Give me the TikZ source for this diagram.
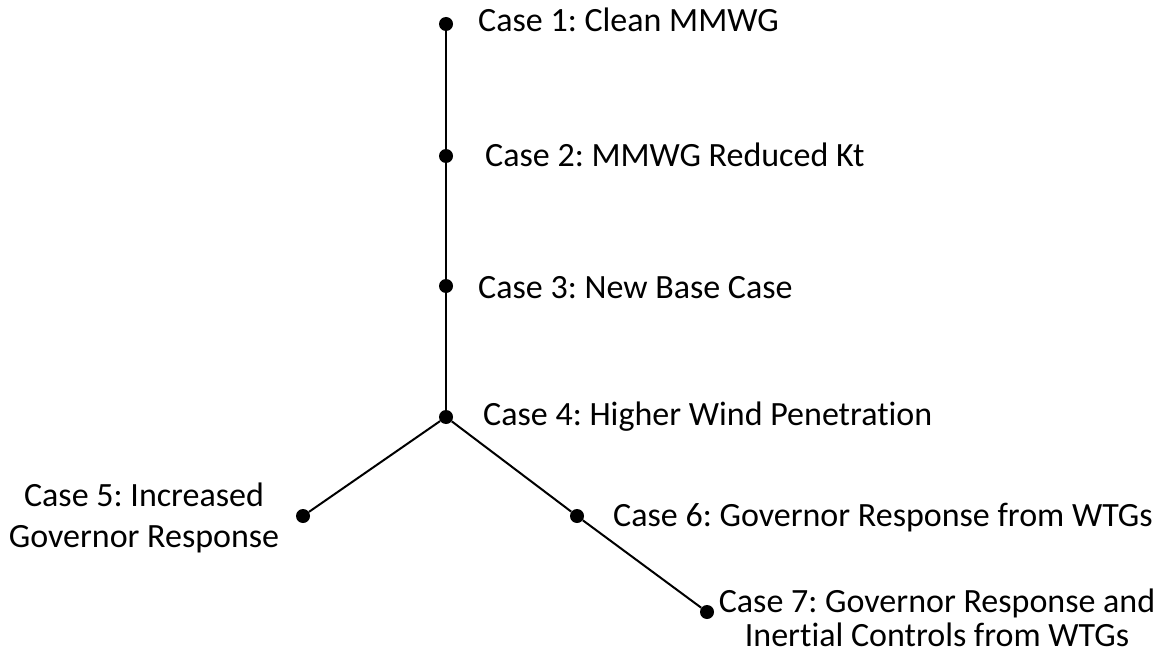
\documentclass[tikz,border=0pt]{standalone}
\usepackage{fontspec}
\setmainfont{Carlito}[Ligatures=NoCommon]
\frenchspacing
\begin{document}
\begin{tikzpicture}[x=1pt,y=-1pt,
  dot/.style={circle,fill=black,inner sep=0pt,minimum size=14pt},
  lbl/.style={inner sep=0pt,font=\fontsize{34}{41}\selectfont,text=black},
  conn/.style={line width=2pt,draw=black}]
\useasboundingbox (0,0) rectangle (1161,655);
\node[dot] (c1) at (446,24) {};
\node[dot] (c2) at (446,156) {};
\node[dot] (c3) at (446,286) {};
\node[dot] (c4) at (446,417) {};
\node[dot] (c5) at (303,516) {};
\node[dot] (c6) at (577,516) {};
\node[dot] (c7) at (707,612) {};
\draw[conn] (c1) -- (c2) -- (c3) -- (c4);
\draw[conn] (c4) -- (c5);
\draw[conn] (c4) -- (c6) -- (c7);
\node[lbl,anchor=base west] (t1) at (478,32) {Case 1: Clean MMWG};
\node[lbl,anchor=base west] (t2) at (485,167) {Case 2: MMWG Reduced Kt};
\node[lbl,anchor=base west] (t3) at (478,298) {Case 3: New Base Case};
\node[lbl,anchor=base west] (t4) at (483,425) {Case 4: Higher Wind Penetration};
\node[lbl,anchor=base west] (t6) at (613,526) {Case 6: Governor Response from WTGs};
\node[lbl,anchor=base,align=center] (t5) at (144,547) {Case 5: Increased\\Governor Response};
\node[lbl,anchor=base,align=center,font=\fontsize{34}{34}\selectfont] (t7) at (937,646) {Case 7: Governor Response and\\Inertial Controls from WTGs};
\end{tikzpicture}
\end{document}
